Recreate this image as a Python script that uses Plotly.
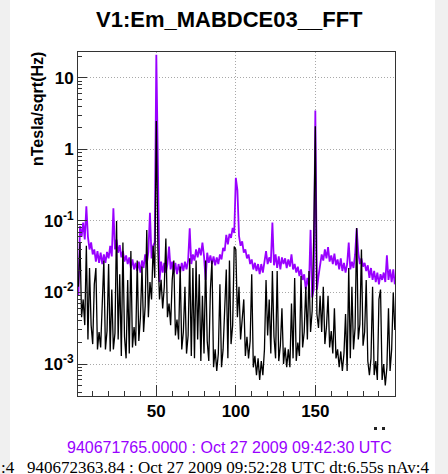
import plotly.graph_objects as go

# ---------------- data ----------------
freq = list(range(1, 201))  # Hz

purple_fft = [
    0.009, 0.085, 0.06, 0.095, 0.055, 0.16, 0.06, 0.04, 0.05, 0.034,
    0.04, 0.027, 0.038, 0.026, 0.036, 0.025, 0.034, 0.026, 0.037, 0.03,
    0.045, 0.032, 0.15, 0.04, 0.055, 0.036, 0.046, 0.031, 0.038, 0.027,
    0.033, 0.025, 0.031, 0.022, 0.029, 0.021, 0.026, 0.02, 0.027, 0.019,
    0.028, 0.022, 0.034, 0.025, 0.037, 0.13, 0.03, 0.045, 0.05, 21,
    0.6, 0.014, 0.027, 0.019, 0.026, 0.019, 0.025, 0.044, 0.021, 0.027,
    0.019, 0.026, 0.018, 0.025, 0.019, 0.026, 0.02, 0.027, 0.021, 0.028,
    0.079, 0.025, 0.034, 0.028, 0.04, 0.031, 0.042, 0.033, 0.05, 0.032,
    0.015, 0.036, 0.026, 0.033, 0.025, 0.032, 0.024, 0.031, 0.025, 0.034,
    0.029, 0.042, 0.038, 0.064, 0.047, 0.066, 0.058, 0.08, 0.068, 0.4,
    0.27, 0.062, 0.045, 0.052, 0.036, 0.04, 0.03, 0.034, 0.025, 0.029,
    0.021, 0.026, 0.02, 0.025, 0.018, 0.025, 0.019, 0.028, 0.038, 0.025,
    0.031, 0.026, 0.095, 0.024, 0.034, 0.022, 0.032, 0.021, 0.031, 0.025,
    0.03, 0.022, 0.029, 0.023, 0.034, 0.021, 0.025, 0.019, 0.023, 0.017,
    0.021, 0.015, 0.018, 0.011, 0.016, 0.012, 0.075, 0.0085, 0.011, 3.5,
    0.011, 0.017, 0.023, 0.034, 0.028, 0.04, 0.03, 0.043, 0.027, 0.033,
    0.025, 0.035, 0.024, 0.029, 0.021, 0.03, 0.02, 0.026, 0.019, 0.025,
    0.05, 0.021, 0.027, 0.022, 0.034, 0.079, 0.036, 0.025, 0.03, 0.023,
    0.026, 0.02, 0.024, 0.016, 0.022, 0.015, 0.02, 0.014, 0.019, 0.013,
    0.018, 0.015, 0.019, 0.014, 0.033, 0.015, 0.021, 0.014, 0.021, 0.013,
]

black_fft = [
    0.012, 0.05, 0.0045, 0.008, 0.0035, 0.045, 0.0022, 0.022, 0.0035, 0.0019,
    0.013, 0.022, 0.0016, 0.0028, 0.0017, 0.009, 0.028, 0.0016, 0.0029, 0.025,
    0.0015, 0.011, 0.0016, 0.0027, 0.1, 0.0022, 0.018, 0.0013, 0.05, 0.0024,
    0.0012, 0.015, 0.0014, 0.038, 0.0017, 0.0033, 0.0018, 0.028, 0.0021, 0.0045,
    0.023, 0.0028, 0.0065, 0.075, 0.0045, 0.014, 0.008, 0.045, 0.016, 2.5,
    0.04, 0.008, 0.015, 0.006, 0.012, 0.057, 0.0045, 0.007, 0.0035, 0.015,
    0.028, 0.0025, 0.0042, 0.0022, 0.023, 0.0016, 0.0028, 0.012, 0.0014, 0.0025,
    0.03, 0.0013, 0.022, 0.0012, 0.028, 0.0022, 0.018, 0.0011, 0.009, 0.0014,
    0.028, 0.0021, 0.0011, 0.011, 0.028, 0.0009, 0.0016, 0.0008, 0.0014, 0.013,
    0.0009, 0.0016, 0.006, 0.021, 0.0012, 0.028, 0.0019, 0.0035, 0.044, 0.04,
    0.0045, 0.012, 0.0022, 0.0038, 0.008, 0.0013, 0.0024, 0.0012, 0.0021, 0.018,
    0.0009, 0.0013, 0.0007, 0.0012, 0.0006, 0.0011, 0.0007, 0.0016, 0.015, 0.0025,
    0.008, 0.0014, 0.02, 0.0024, 0.0012, 0.02, 0.0011, 0.0018, 0.006, 0.001,
    0.0017, 0.0009, 0.0016, 0.0009, 0.007, 0.0012, 0.016, 0.0011, 0.002, 0.0013,
    0.017, 0.0017, 0.0028, 0.012, 0.0022, 0.02, 0.0028, 0.0055, 0.06, 2.1,
    0.005, 0.0032, 0.009, 0.0028, 0.012, 0.0019, 0.0033, 0.009, 0.0017, 0.0029,
    0.0014, 0.006, 0.0012, 0.0016, 0.0009, 0.0015, 0.0008, 0.0014, 0.005, 0.0008,
    0.022, 0.0012, 0.012, 0.0016, 0.0032, 0.08, 0.0022, 0.0036, 0.04, 0.0018,
    0.0028, 0.015, 0.0011, 0.0007, 0.0012, 0.012, 0.0007, 0.0011, 0.0006, 0.008,
    0.011, 0.0006, 0.001, 0.0005, 0.0009, 0.006, 0.0008, 0.0016, 0.01, 0.003,
]

x_tick_vals = [50, 100, 150]
x_tick_text = ["50", "100", "150"]
y_tick_vals = [0.001, 0.01, 0.1, 1, 10]
y_tick_text = ["10<sup>-3</sup>", "10<sup>-2</sup>", "10<sup>-1</sup>", "1", "10"]
y_minor_vals = [m * 10.0 ** e for e in range(-4, 2) for m in range(2, 10)]

title_text = "V1:Em_MABDCE03__FFT"
y_title = "nTesla/sqrt(Hz)"
ref_time_text = "940671765.0000 : Oct 27 2009 09:42:30 UTC"
cur_time_text = "940672363.84 : Oct 27 2009 09:52:28 UTC dt:6.55s nAv:4"

# ---------------- layout geometry ----------------
W, H = 448, 474
L, R, T, B = 78, 395, 52, 396
PW, PH = R - L, B - T


def px(x):
    return (x - L) / PW


def py(y):
    return (B - y) / PH


PURPLE = "#9900ff"
FONT = "Liberation Sans, Arial, sans-serif"
SERIF = "Liberation Serif, Times New Roman, serif"

fig = go.Figure()
fig.add_trace(go.Scatter(x=freq, y=purple_fft, mode="lines",
                         line=dict(color=PURPLE, width=1.8), showlegend=False))
fig.add_trace(go.Scatter(x=freq, y=black_fft, mode="lines",
                         line=dict(color="black", width=1.3), showlegend=False))

axis_common = dict(
    showline=True, linecolor="#333333", linewidth=1, mirror=True,
    ticks="inside", tickcolor="#333333", tickwidth=1,
    showgrid=True, gridcolor="#a8a8a8", griddash="1px,2px", gridwidth=1,
    zeroline=False,
    tickfont=dict(family=FONT, size=17, color="black", weight="bold"),
)

fig.update_xaxes(
    range=[0.75, 200.1], tickmode="array", tickvals=x_tick_vals, ticktext=x_tick_text,
    ticklen=11,
    minor=dict(ticks="inside", dtick=10, tick0=0, ticklen=5, tickcolor="#333333", showgrid=False),
    **axis_common,
)
fig.update_yaxes(
    type="log", range=[-3.447, 1.362], tickmode="array", tickvals=y_tick_vals,
    ticktext=y_tick_text, ticklen=9,
    minor=dict(ticks="inside", tickmode="array", tickvals=y_minor_vals, ticklen=4,
               tickcolor="#333333", showgrid=False),
    **axis_common,
)

annotations = [
    dict(text="<b>" + title_text + "</b>", x=px(229), y=py(19), xref="paper", yref="paper",
         showarrow=False, xanchor="center", yanchor="middle",
         font=dict(family=FONT, size=22, color="black")),
    dict(text="<b>" + y_title + "</b>", x=px(38), y=py(109), xref="paper", yref="paper",
         showarrow=False, xanchor="center", yanchor="middle", textangle=-90,
         font=dict(family=FONT, size=16, color="black")),
    dict(text=ref_time_text, x=px(229), y=py(447), xref="paper", yref="paper",
         showarrow=False, xanchor="center", yanchor="middle",
         font=dict(family=FONT, size=16, color=PURPLE)),
    dict(text=cur_time_text, x=px(25), y=py(467), xref="paper", yref="paper",
         showarrow=False, xanchor="left", yanchor="middle",
         font=dict(family=SERIF, size=17, color="black")),
    dict(text=":4", x=px(-1), y=py(467), xref="paper", yref="paper",
         showarrow=False, xanchor="left", yanchor="middle",
         font=dict(family=SERIF, size=17, color="black")),
]

shapes = [
    dict(type="rect", xref="paper", yref="paper", x0=px(10), x1=px(435), y0=py(H + 2), y1=py(-2),
         fillcolor="white", line=dict(width=0), layer="below"),
    dict(type="rect", xref="paper", yref="paper", x0=px(374), x1=px(377), y0=py(430), y1=py(427),
         fillcolor="#222222", line=dict(width=0)),
    dict(type="rect", xref="paper", yref="paper", x0=px(382), x1=px(385), y0=py(430), y1=py(427),
         fillcolor="#222222", line=dict(width=0)),
]

fig.update_layout(
    width=W, height=H, autosize=False,
    margin=dict(l=L, r=W - R, t=T, b=H - B, pad=0),
    paper_bgcolor="#f0f0f0", plot_bgcolor="white",
    annotations=annotations, shapes=shapes,
    showlegend=False,
)

fig.write_html("out.html", post_script="document.body.style.margin='0';",
               config={"displayModeBar": False})
